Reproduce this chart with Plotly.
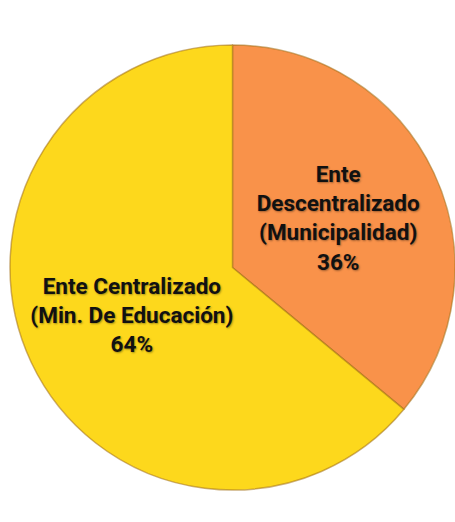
import plotly.graph_objects as go

labels = ["Ente<br>Descentralizado<br>(Municipalidad)", "Ente Centralizado<br>(Min. De Educación)"]
values = [36, 64]
colors = ["#F9924A", "#FDD81C"]

fig = go.Figure(
    go.Pie(
        labels=labels,
        values=values,
        sort=False,
        direction="clockwise",
        rotation=0,
        marker=dict(colors=colors, line=dict(color="rgba(160,110,20,0.55)", width=1.5)),
        texttemplate="%{label}<br>%{percent:.0%}",
        textposition="inside",
        insidetextorientation="horizontal",
        textfont=dict(family="Roboto", size=22.5, color="#111111", weight="bold",
                      shadow="1px 1px 2px rgba(0,0,0,0.35)"),
        hoverinfo="label+percent",
        showlegend=False,
    )
)

fig.update_layout(
    width=455,
    height=522,
    margin=dict(l=10, r=0, t=45, b=32),
    paper_bgcolor="white",
    plot_bgcolor="white",
)

fig.write_html("out.html")
